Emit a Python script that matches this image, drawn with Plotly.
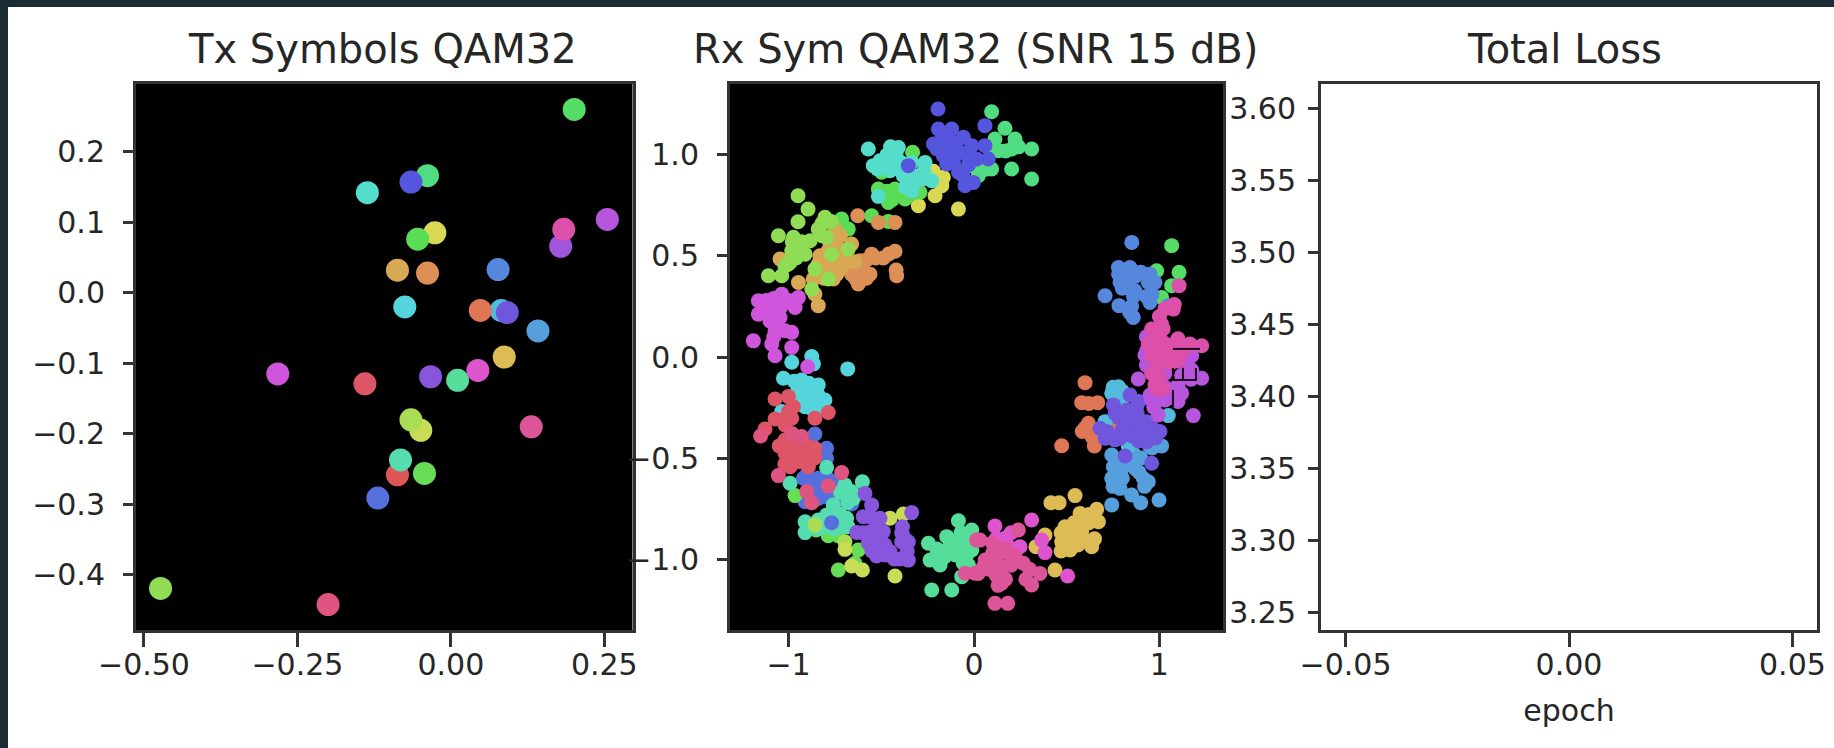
import plotly.graph_objects as go

# Tx constellation
tx_x = [0.201,-0.038,-0.065,-0.136,0.255,0.179,0.184,-0.026,-0.054,-0.087,-0.038,0.077,-0.075,0.082,0.048,0.092,0.142,0.087,-0.282,-0.14,-0.033,0.011,0.044,0.131,-0.049,-0.065,-0.087,-0.082,-0.043,-0.119,-0.473,-0.2]
tx_y = [0.26,0.166,0.157,0.142,0.104,0.066,0.09,0.085,0.076,0.032,0.028,0.033,-0.02,-0.025,-0.025,-0.028,-0.054,-0.091,-0.115,-0.129,-0.119,-0.124,-0.11,-0.19,-0.195,-0.18,-0.258,-0.237,-0.256,-0.291,-0.419,-0.442]
tx_c = ["#55dd66","#50dc80","#5555dd","#55ddcc","#b855dd","#a055dd","#dd50aa","#d8d855","#5add55","#d8a855","#dd9055","#5588dd","#55d4dd","#55bbdd","#dd7755","#7055dd","#559fdd","#ddbb55","#d055dd","#dd5566","#8855dd","#55dd99","#dd55cc","#dd5599","#c8dd55","#aadd55","#dd5555","#55ddb0","#66dd55","#5570dd","#90dd55","#dd5580"]

# Rx clusters, one list pair per transmitted symbol
rx_green1_x = [1.066,1.106,1.066,0.985,1.012,0.958]
rx_green1_y = [0.551,0.419,0.353,0.427,0.295,0.377]
rx_teal1_x = [0.095,0.167,0.113,0.221,0.131,0.203,0.311,0.203,0.311,0.095,0.041,0.023,-0.012, 0.17,0.24,0.1,0.07,0.03]
rx_teal1_y = [1.214,1.132,1.079,1.079,1.021,1.029,1.029,0.93,0.881,0.93,0.922,0.897,0.947, 1.02,1.04,1.03,0.93,0.94]
rx_yellow_x = [-0.30,-0.21,-0.174,-0.165,-0.219,-0.084]
rx_yellow_y = [0.749,0.798,0.848,0.889,0.919,0.732]
rx_green2_x = [-0.331,-0.498,-0.516,-0.426,-0.462,-0.372,-0.291,-0.552,-0.462,-0.714,-0.678, -0.47,-0.44,-0.5,-0.41,-0.33]
rx_green2_y = [1.013,0.914,0.831,0.831,0.765,0.782,0.815,0.699,0.671,0.683,0.633, 0.82,0.78,0.8,0.8,0.81]
rx_cyan1_x = [-0.57,-0.408,-0.507,-0.543,-0.435,-0.336,-0.264,-0.381,-0.309,-0.228,-0.336,-0.453,-0.516, -0.47,-0.42,-0.52,-0.47,-0.39,-0.41,-0.36,-0.33,-0.27,-0.28,-0.35,-0.37,-0.45]
rx_cyan1_y = [1.029,1.037,0.971,0.947,0.971,0.963,0.963,0.897,0.872,0.872,0.823,0.922,0.795, 1.0,1.0,0.93,0.95,0.96,0.93,0.91,0.9,0.92,0.88,0.86,0.84,1.04]
rx_blue1_x = [-0.194,-0.192,-0.12,-0.219,-0.147,-0.057,-0.012,-0.165,-0.076,-0.147,-0.084,-0.048,-0.003,0.059,0.059,0.077,0.014,-0.354, -0.17,-0.1,-0.2,-0.12,-0.04,-0.11,-0.06,-0.03,-0.17]
rx_blue1_y = [1.227,1.128,1.128,1.054,1.07,1.087,1.046,0.996,1.013,0.955,0.914,0.848,0.864,1.145,1.046,0.98,0.98,0.947, 1.09,1.06,1.03,1.0,1.0,0.96,0.9,0.95,1.02]
rx_orange_x = [-0.627,-0.516,-0.426,-0.552,-0.426,-0.489,-0.615,-0.561,-0.624,-0.417,-0.669, -0.58,-0.53,-0.6,-0.65,-0.58,-0.46,-0.64,-0.69,-0.66,-0.42]
rx_orange_y = [0.699,0.666,0.666,0.509,0.523,0.49,0.476,0.41,0.361,0.402,0.427, 0.48,0.49,0.43,0.46,0.39,0.51,0.39,0.44,0.41,0.43]
rx_tan_x = [-0.75,-0.66,-0.777,-0.831,-0.732,-0.867,-0.759,-0.804,-0.947,-1.046,-0.84,-0.858,-0.642, -0.72,-0.75,-0.72,-0.79,-0.76,-0.7,-0.84,-0.78,-0.72,-0.84,-0.74,-0.81,-0.69]
rx_tan_y = [0.633,0.559,0.559,0.501,0.476,0.386,0.386,0.443,0.369,0.485,0.254,0.311,0.471, 0.6,0.56,0.53,0.52,0.49,0.5,0.46,0.43,0.44,0.41,0.41,0.39,0.47]
rx_lime_x = [-0.949,-0.895,-0.949,-1.055,-0.974,-0.884,-0.983,-0.911,-0.804,-0.84,-0.795,-0.768,-0.678,-0.858,-0.786,-0.875,-1.109,-1.037,-1.001, -0.98,-0.93,-0.94,-0.96,-0.99,-1.02,-0.82,-0.77,-0.82]
rx_lime_y = [0.798,0.732,0.669,0.6,0.592,0.575,0.526,0.509,0.691,0.633,0.592,0.509,0.534,0.435,0.386,0.336,0.402,0.402,0.46, 0.57,0.57,0.53,0.49,0.47,0.45,0.66,0.67,0.6]
rx_cyan2_x = [-0.983,-0.875,-0.866,-0.681,-1.028,-0.93,-0.84,-0.92,-0.804,-0.894,-0.849,-1.037,-0.912, -0.97,-0.89,-0.95,-0.87,-0.84,-0.88,-0.94,-0.87]
rx_cyan2_y = [-0.026,0.002,-0.034,-0.059,-0.105,-0.114,-0.138,-0.171,-0.213,-0.204,-0.254,-0.27,-0.246, -0.12,-0.13,-0.16,-0.17,-0.19,-0.22,-0.22,-0.26]
rx_magenta_x = [-1.037,-0.947,-1.163,-0.965,-1.082,-1.163,-1.1,-1.046,-0.983,-1.073,-1.19,-1.091,-1.073,-0.983,-0.897, -1.12,-1.08,-1.0,-1.04,-1.13,-1.06,-1.02,-1.08]
rx_magenta_y = [0.311,0.295,0.278,0.245,0.245,0.212,0.179,0.196,0.122,0.13,0.08,0.064,0.006,0.047,-0.048, 0.28,0.29,0.28,0.25,0.22,0.17,0.13,0.1]
rx_red1_x = [-1.073,-1.001,-0.974,-0.983,-1.073,-0.786,-0.858,-1.127,-1.019, -1.03,-1.0]
rx_red1_y = [-0.208,-0.196,-0.246,-0.303,-0.307,-0.275,-0.303,-0.356,-0.336, -0.31,-0.27]
rx_blue2_x = [-0.858,-0.795,-0.795,-0.92,-0.84,-0.759,-0.813,-0.714,-0.66,-0.911, -0.88,-0.79,-0.89,-0.84,-0.77,-0.9,-0.84,-0.76,-0.72]
rx_blue2_y = [-0.381,-0.452,-0.501,-0.6,-0.6,-0.617,-0.691,-0.686,-0.727,-0.716, -0.62,-0.6,-0.65,-0.65,-0.67,-0.58,-0.7,-0.72,-0.72]
rx_red2_x = [-1.019,-0.947,-0.858,-1.019,-0.938,-0.858,-0.992,-0.893,-0.938, -0.98,-0.98,-0.9,-0.9,-0.98,-1.05,-1.02,-0.93,-0.86]
rx_red2_y = [-0.411,-0.411,-0.452,-0.477,-0.477,-0.493,-0.543,-0.543,-0.518, -0.41,-0.46,-0.44,-0.5,-0.51,-0.44,-0.53,-0.44,-0.5]
rx_pinkred_x = [-1.151,-1.055,-0.714,-0.786,-0.902,-0.875,-0.983,-0.93]
rx_pinkred_y = [-0.391,-0.587,-0.572,-0.638,-0.666,-0.721,-0.378,-0.394]
rx_green3_x = [-0.965,-0.852,-0.786,-0.732,-0.624,-0.732,-0.642]
rx_green3_y = [-0.686,-0.856,-0.884,-0.884,-0.955,-1.054,-1.021]
rx_teal2_x = [-0.795,-0.992,-0.696,-0.602,-0.66,-0.759,-0.687,-0.84,-0.911,-0.911,-0.723,-0.795, -0.76,-0.72,-0.84,-0.87,-0.65,-0.68,-0.72,-0.75,-0.68,-0.8]
rx_teal2_y = [-0.546,-0.625,-0.633,-0.617,-0.666,-0.732,-0.798,-0.807,-0.815,-0.869,-0.84,-0.782, -0.78,-0.78,-0.85,-0.83,-0.7,-0.72,-0.67,-0.85,-0.84,-0.84]
rx_blue3_x = [-0.768]
rx_blue3_y = [-0.82]
rx_olive_x = [-0.696,-0.602,-0.66,-0.426,-0.381,-0.453]
rx_olive_y = [-0.952,-1.054,-1.034,-1.084,-0.777,-0.798]
rx_lime2_x = [-0.696,-0.858]
rx_lime2_y = [-0.914,-0.831]
rx_purple_x = [-0.588,-0.552,-0.597,-0.507,-0.633,-0.57,-0.489,-0.543,-0.386,-0.48,-0.354,-0.525,-0.453,-0.354,-0.39,-0.336, -0.56,-0.53,-0.6,-0.52,-0.5,-0.57,-0.55,-0.48,-0.39,-0.36,-0.4,-0.38,-0.43]
rx_purple_y = [-0.675,-0.732,-0.79,-0.798,-0.868,-0.868,-0.864,-0.914,-0.84,-0.93,-0.914,-0.985,-0.963,-1.005,-0.914,-0.77, -0.79,-0.84,-0.87,-0.88,-0.93,-0.92,-0.96,-0.98,-0.87,-0.96,-1.0,-0.89,-1.0]
rx_teal3_x = [-0.084,-0.012,-0.147,-0.246,-0.075,-0.138,-0.012,-0.237,-0.183,-0.058,-0.066,-0.228,-0.12,-0.075, -0.2,-0.16,-0.11,-0.1,-0.03,-0.04,-0.03,-0.2,-0.07]
rx_teal3_y = [-0.81,-0.856,-0.889,-0.922,-0.939,-0.947,-0.955,-1.005,-1.029,-1.021,-1.087,-1.153,-1.153,-0.972, -0.98,-0.99,-0.92,-0.98,-0.92,-0.98,-1.03,-0.95,-0.87]
rx_pink_x = [0.239,0.032,0.06,0.14,0.221,0.158,0.149,0.023,0.266,0.356,0.311,0.113,0.182,0.086,-0.048,0.014,0.005, 0.1,0.17,0.2,0.08,0.13,0.2,0.12,0.17,0.05,0.1,0.3,0.28,0.13]
rx_pink_y = [-0.856,-0.906,-1.005,-0.972,-0.988,-1.038,-1.12,-1.071,-1.021,-1.071,-1.128,-1.219,-1.219,-1.021,-1.07,-0.906,-1.07, -0.97,-0.95,-0.98,-1.05,-1.03,-1.03,-1.08,-1.1,-1.04,-0.92,-1.05,-1.1,-1.13]
rx_gold_x = [0.545,0.415,0.459,0.572,0.662,0.491,0.671,0.473,0.581,0.635,0.518,0.437,0.383,0.334, 0.52,0.47,0.5,0.58,0.62,0.62,0.54,0.56,0.47,0.6,0.65]
rx_gold_y = [-0.686,-0.721,-0.721,-0.774,-0.754,-0.84,-0.815,-0.914,-0.864,-0.939,-0.955,-1.054,-0.881,-0.939, -0.88,-0.87,-0.93,-0.8,-0.78,-0.82,-0.82,-0.93,-0.96,-0.91,-0.9]
rx_orchid_x = [0.113,0.311,0.365,0.383,0.505,0.167,0.248, 0.18,0.2,0.12]
rx_orchid_y = [-0.836,-0.807,-0.906,-0.968,-1.084,-0.897,-0.939, -0.93,-0.87,-0.9]
rx_sky_x = [0.743,0.752,0.743,0.788,0.743,0.85,0.899,0.998,0.868,0.913,0.94,0.859,1.012,0.949, 0.8,0.8,0.79,0.85,0.9,0.89,0.75,0.96,0.92]
rx_sky_y = [-0.485,-0.543,-0.6,-0.65,-0.732,-0.683,-0.721,-0.708,-0.551,-0.6,-0.617,-0.477,-0.44,-0.444, -0.55,-0.6,-0.52,-0.5,-0.5,-0.57,-0.64,-0.45,-0.64]
rx_cyan3_x = [0.779,0.743,0.707,1.048,0.797,0.833, 0.75,0.8]
rx_cyan3_y = [-0.147,-0.18,-0.32,-0.29,-0.213,-0.444, -0.15,-0.17]
rx_coral_x = [0.599,0.581,0.667,0.617,0.584,0.473,0.649,0.638,0.743, 0.62,0.6]
rx_coral_y = [-0.127,-0.226,-0.226,-0.328,-0.369,-0.439,-0.44,-0.397,-0.353, -0.23,-0.35]
rx_indigo_x = [0.842,0.877,0.752,0.761,0.85,0.931,0.68,0.707,0.788,0.886,1.003,0.886,0.815,0.958,0.824, 0.88,0.82,0.92,0.85,0.96,0.93,0.89,0.8,0.78,0.72,0.76,0.98,0.87]
rx_indigo_y = [-0.188,-0.246,-0.237,-0.279,-0.312,-0.32,-0.353,-0.402,-0.402,-0.361,-0.369,-0.414,-0.49,-0.526,-0.262, -0.28,-0.31,-0.37,-0.39,-0.35,-0.42,-0.22,-0.36,-0.3,-0.37,-0.41,-0.4,-0.33]
rx_blue4_x = [0.851,0.779,0.841,0.949,0.976,0.788,0.707,0.782,0.868,0.949,0.85,0.859,1.048, 0.78,0.82,0.87,0.9,0.94,0.84,0.8,0.86,0.93,0.84,0.96]
rx_blue4_y = [0.567,0.443,0.443,0.41,0.369,0.369,0.303,0.254,0.328,0.27,0.25,0.196,0.254, 0.41,0.4,0.4,0.42,0.37,0.34,0.34,0.3,0.3,0.22,0.31]
rx_violet_x = [0.886,1.183,1.228,1.174,1.12,1.03,0.958,1.03,0.994,0.922,0.95,1.066,0.931,1.174, 0.93,0.94,1.15,1.12,1.17,0.97,1.1,1.1,0.96,0.98,1.03,1.07,0.93]
rx_violet_y = [-0.109,-0.29,-0.105,-0.064,-0.18,-0.08,-0.213,-0.213,-0.287,0.01,-0.188,-0.163,0.031,0.006, 0.1,0.03,-0.03,-0.09,-0.11,-0.25,-0.22,-0.14,-0.05,-0.17,-0.15,-0.2,-0.04]
rx_rose_x = [1.106,1.075,0.958,1.012,1.012,0.94,1.102,1.228,1.165,1.012,0.958,1.084,0.976,0.958,1.021, 1.0,1.02,0.98,1.05,1.1,1.07,0.99,1.13,1.0,1.06,1.1,1.0,0.99,1.03,1.08]
rx_rose_y = [0.353,0.237,0.138,0.163,0.08,0.064,0.047,0.056,0.064,0.0,0.002,0.002,-0.138,-0.08,-0.155, 0.2,0.14,0.1,0.06,0.09,0.04,0.03,0.03,-0.03,-0.03,-0.02,-0.1,-0.16,0.24,0.26]

# thin black strokes that sit on the right-hand blob
stroke_x = [1.073,1.219,None,1.073,1.073,1.197,1.197,None,1.127,1.127,None,1.073,1.073]
stroke_y = [0.04,0.04,None,-0.054,-0.114,-0.114,-0.054,None,-0.054,-0.114,None,-0.163,-0.248]

rx_series = [
    (rx_green1_x, rx_green1_y, "#55dd66"), (rx_teal1_x, rx_teal1_y, "#50dc80"),
    (rx_yellow_x, rx_yellow_y, "#d8d855"), (rx_green2_x, rx_green2_y, "#5add55"),
    (rx_cyan1_x, rx_cyan1_y, "#55ddcc"), (rx_blue1_x, rx_blue1_y, "#5555dd"),
    (rx_orange_x, rx_orange_y, "#dd9055"), (rx_tan_x, rx_tan_y, "#d8a855"),
    (rx_lime_x, rx_lime_y, "#90dd55"), (rx_cyan2_x, rx_cyan2_y, "#55d4dd"),
    (rx_magenta_x, rx_magenta_y, "#d055dd"), (rx_blue2_x, rx_blue2_y, "#5570dd"),
    (rx_red1_x, rx_red1_y, "#dd5566"), (rx_red2_x, rx_red2_y, "#dd5566"),
    (rx_green3_x, rx_green3_y, "#66dd55"), (rx_teal2_x, rx_teal2_y, "#55ddb0"),
    (rx_pinkred_x, rx_pinkred_y, "#dd5580"), (rx_blue3_x, rx_blue3_y, "#5570dd"),
    (rx_lime2_x, rx_lime2_y, "#aadd55"), (rx_olive_x, rx_olive_y, "#c8dd55"),
    (rx_teal3_x, rx_teal3_y, "#55dd99"), (rx_purple_x, rx_purple_y, "#8855dd"),
    (rx_gold_x, rx_gold_y, "#ddbb55"), (rx_orchid_x, rx_orchid_y, "#dd55cc"),
    (rx_pink_x, rx_pink_y, "#dd5599"), (rx_coral_x, rx_coral_y, "#dd7755"),
    (rx_sky_x, rx_sky_y, "#559fdd"), (rx_cyan3_x, rx_cyan3_y, "#55bbdd"),
    (rx_indigo_x, rx_indigo_y, "#7055dd"), (rx_blue4_x, rx_blue4_y, "#5588dd"),
    (rx_violet_x, rx_violet_y, "#b855dd"), (rx_rose_x, rx_rose_y, "#dd50aa"),
]

W, H = 1834, 748
FONT = "DejaVu Sans"
INK = "#262626"
SPINE = "#333333"
BAND = "#1b2c35"
TICK = 30
TITLE = 40

fig = go.Figure()
fig.add_trace(go.Scatter(x=tx_x, y=tx_y, mode="markers", xaxis="x", yaxis="y",
                         marker=dict(size=23, color=tx_c, line=dict(width=0)), showlegend=False))
for sx, sy, col in rx_series:
    fig.add_trace(go.Scatter(x=sx, y=sy, mode="markers", xaxis="x2", yaxis="y2",
                             marker=dict(size=15, color=col, line=dict(width=0)), showlegend=False))
fig.add_trace(go.Scatter(x=stroke_x, y=stroke_y, mode="lines", xaxis="x2", yaxis="y2",
                         line=dict(color="#1a0a1a", width=2), showlegend=False))
# the loss panel has no data: an empty trace keeps its axes alive
fig.add_trace(go.Scatter(x=[], y=[], mode="lines", xaxis="x3", yaxis="y3", showlegend=False))


def ax(p0, p1, total, ticklen, standoff, **kw):
    base = dict(domain=[p0 / total, p1 / total], showgrid=False, zeroline=False, showline=True,
                linecolor=SPINE, linewidth=3, mirror=True, ticks="outside", ticklen=ticklen, tickwidth=2.5,
                tickcolor=SPINE, automargin=False, ticklabelstandoff=standoff,
                tickfont=dict(family=FONT, size=TICK, color=INK))
    base.update(kw)
    return base


YD = (H - 630, H - 84)

fig.update_layout(
    template="none",
    width=W, height=H, autosize=False,
    margin=dict(l=0, r=0, t=0, b=0),
    paper_bgcolor="#ffffff",
    plot_bgcolor="#000000",
    xaxis=ax(136, 632.5, W, 14, -8, anchor="y", range=[-0.513, 0.296],
             tickvals=[-0.5, -0.25, 0, 0.25], ticktext=["−0.50", "−0.25", "0.00", "0.25"]),
    yaxis=ax(*YD, H, 10, 12, anchor="x", range=[-0.478, 0.296], tickvals=[0.2, 0.1, 0, -0.1, -0.2, -0.3, -0.4],
             ticktext=["0.2", "0.1", "0.0", "−0.1", "−0.2", "−0.3", "−0.4"]),
    xaxis2=ax(730, 1223, W, 14, -8, anchor="y2", range=[-1.316, 1.343], tickvals=[-1, 0, 1], ticktext=["−1", "0", "1"]),
    yaxis2=ax(*YD, H, 10, 12, anchor="x2", range=[-1.351, 1.351], tickvals=[1, 0.5, 0, -0.5, -1],
              ticktext=["1.0", "0.5", "0.0", "−0.5", "−1.0"]),
    xaxis3=ax(1321, 1817, W, 14, -8, anchor="y3", range=[-0.0555, 0.0555], tickvals=[-0.05, 0, 0.05],
              ticktext=["−0.05", "0.00", "0.05"],
              title=dict(text="epoch", font=dict(family=FONT, size=TICK, color=INK), standoff=19)),
    yaxis3=ax(*YD, H, 10, 6, anchor="x3", range=[3.238, 3.617],
              tickvals=[3.6, 3.55, 3.5, 3.45, 3.4, 3.35, 3.3, 3.25],
              ticktext=["3.60", "3.55", "3.50", "3.45", "3.40", "3.35", "3.30", "3.25"]),
    shapes=[
        dict(type="rect", xref="paper", yref="paper", x0=0, x1=1, y0=1 - 7 / H, y1=1, fillcolor=BAND, line_width=0, layer="above"),
        dict(type="rect", xref="paper", yref="paper", x0=0, x1=8 / W, y0=0, y1=1, fillcolor=BAND, line_width=0, layer="above"),
        dict(type="rect", xref="x3 domain", yref="y3 domain", x0=0, x1=1, y0=0, y1=1, fillcolor="#ffffff", line_width=0, layer="below"),
    ],
    annotations=[
        dict(text=t, x=x / W, y=1 - 49 / H, xref="paper", yref="paper", showarrow=False,
             xanchor="center", yanchor="middle", font=dict(family=FONT, size=TITLE, color=INK))
        for t, x in [("Tx Symbols QAM32", 382), ("Rx Sym QAM32 (SNR 15 dB)", 975), ("Total Loss", 1564)]
    ],
)

fig.write_html("out.html", config={"displayModeBar": False},
               post_script="document.body.style.margin='0';")
